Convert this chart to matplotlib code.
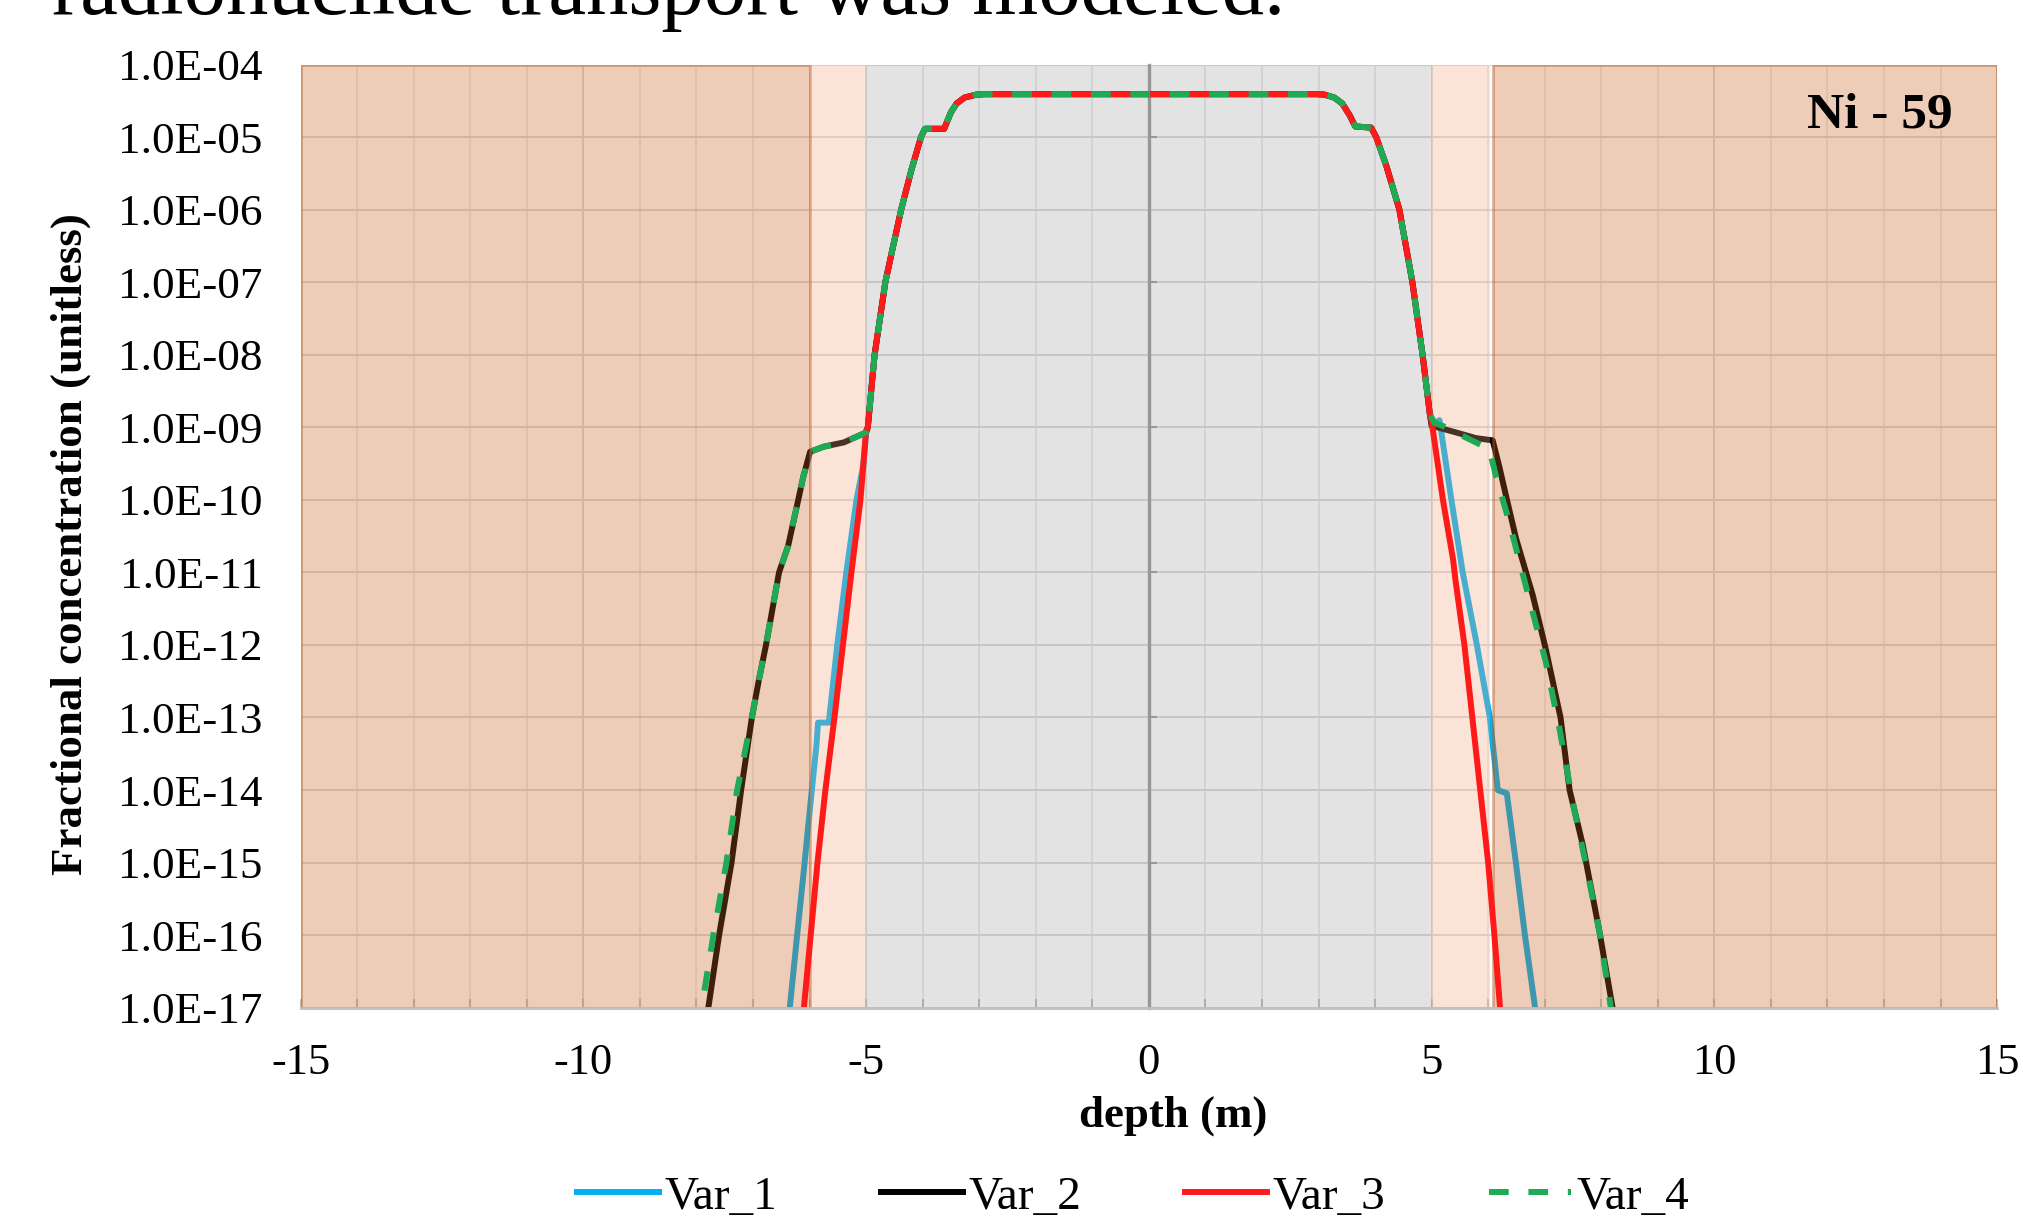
import numpy as np
import matplotlib
matplotlib.use("Agg")
import matplotlib.pyplot as plt
from matplotlib.ticker import FixedLocator, MultipleLocator, FuncFormatter, NullLocator, NullFormatter, LogLocator

plt.rcParams['font.family'] = ['Liberation Serif', 'DejaVu Serif']
plt.rcParams['axes.unicode_minus'] = False

# shared central profile (all four variants coincide here)
core_depth = [-4.97, -4.85, -4.66, -4.52, -4.38, -4.2, -4.03, -3.96, -3.62, -3.5, -3.4, -3.26, -3.05, -2.9,
              2.95, 3.1, 3.28, 3.42, 3.55, 3.65, 3.93, 4.02, 4.2, 4.43, 4.66, 4.84, 4.97]
core_conc = [1.0e-9, 1.0e-8, 1.0e-7, 3.2e-7, 1.0e-6, 3.5e-6, 1.0e-5, 1.3e-5, 1.3e-5, 2.2e-5, 2.9e-5, 3.5e-5, 3.85e-5, 3.9e-5,
             3.9e-5, 3.85e-5, 3.5e-5, 2.9e-5, 2.0e-5, 1.4e-5, 1.35e-5, 1.0e-5, 4.0e-6, 1.0e-6, 1.0e-7, 1.0e-8, 1.5e-9]

# wings, left side (outer -> inner) and right side (inner -> outer)
v1_left_d = [-6.4, -6.35, -6.22, -6.1, -5.98, -5.88, -5.85, -5.66, -5.51, -5.35, -5.17, -5.05, -5.0]
v1_left_c = [5e-18, 1e-17, 1e-16, 8e-16, 7e-15, 4e-14, 8.5e-14, 8.5e-14, 1e-12, 1e-11, 1e-10, 3e-10, 8.5e-10]
v1_right_d = [5.02, 5.14, 5.35, 5.55, 5.8, 6.03, 6.17, 6.33, 6.49, 6.65, 6.83, 6.87]
v1_right_c = [1.1e-9, 1.25e-9, 1e-10, 1e-11, 1e-12, 1e-13, 1e-14, 9e-15, 1e-15, 1e-16, 1e-17, 5e-18]

v2_left_d = [-7.85, -7.79, -7.6, -7.38, -7.21, -7.02, -6.89, -6.77, -6.54, -6.38, -6.2, -6.11, -5.99, -5.75, -5.39, -5.0]
v2_left_c = [5e-18, 1e-17, 1e-16, 1e-15, 1e-14, 1e-13, 3.5e-13, 1e-12, 1e-11, 2.3e-11, 1e-10, 2.1e-10, 4.6e-10, 5.4e-10, 6.2e-10, 8.5e-10]
v2_right_d = [5.0, 5.43, 5.78, 6.08, 6.2, 6.32, 6.49, 6.79, 7.02, 7.28, 7.44, 7.67, 7.97, 8.2, 8.25]
v2_right_c = [1.05e-9, 8.5e-10, 7.1e-10, 6.6e-10, 2.8e-10, 1.1e-10, 3e-11, 4.8e-12, 8.7e-13, 1e-13, 1e-14, 1.8e-15, 1.1e-16, 1e-17, 5e-18]

v3_left_d = [-6.14, -6.1, -5.98, -5.86, -5.72, -5.56, -5.41, -5.26, -5.1, -5.0]
v3_left_c = [5e-18, 1e-17, 1e-16, 1e-15, 1e-14, 1e-13, 1e-12, 1e-11, 1e-10, 9e-10]
v3_right_d = [5.0, 5.2, 5.38, 5.42, 5.58, 5.72, 5.86, 6.0, 6.11, 6.21, 6.24]
v3_right_c = [1.2e-9, 1e-10, 1.5e-11, 8e-12, 1e-12, 1e-13, 1e-14, 1e-15, 1e-16, 1e-17, 5e-18]

v4_left_d = [-7.97, -7.91, -7.7, -7.47, -7.28, -7.02, -6.89, -6.77, -6.54, -6.38, -6.2, -6.11, -5.99, -5.75, -5.39, -5.0]
v4_left_c = [5e-18, 1e-17, 1e-16, 1e-15, 1e-14, 1e-13, 3.5e-13, 1e-12, 1e-11, 2.3e-11, 1e-10, 2.1e-10, 4.6e-10, 5.4e-10, 6.2e-10, 8.5e-10]
v4_right_d = [5.05, 5.19, 5.49, 5.78, 6.02, 6.14, 6.37, 6.73, 7.02, 7.26, 7.5, 7.73, 7.97, 8.17, 8.22]
v4_right_c = [1.15e-9, 1.05e-9, 8e-10, 6.2e-10, 5e-10, 2.1e-10, 5e-11, 4.2e-12, 5.8e-13, 7.1e-14, 6.6e-15, 9.3e-16, 1.1e-16, 1e-17, 5e-18]

# depth zones: (start, end, face rgba, edge rgba)
zones = [(-15, -6, (0.78, 0.39, 0.14, 0.32), (0.70, 0.36, 0.14, 0.45)),
         (-6, -5, (0.96, 0.66, 0.49, 0.30), (0.96, 0.66, 0.49, 0.0)),
         (-5, 5, (0.45, 0.45, 0.45, 0.20), (0.45, 0.45, 0.45, 0.0)),
         (5, 6.03, (0.96, 0.66, 0.49, 0.30), (0.96, 0.66, 0.49, 0.0)),
         (6.08, 15, (0.78, 0.39, 0.14, 0.32), (0.70, 0.36, 0.14, 0.45))]


def series(ld, lc, rd, rc):
    return np.array(ld + core_depth + rd), np.array(lc + core_conc + rc)


fig = plt.figure(figsize=(20.23, 12.24), dpi=100)
ax = fig.add_axes([0.1486, 0.1767, 0.8386, 0.7706])
ax.set_yscale('log')
ax.set_xlim(-15, 15)
ax.set_ylim(1e-17, 1e-4)

ax.set_axisbelow(True)
ax.yaxis.set_major_locator(FixedLocator(10.0 ** np.arange(-17, -3)))
ax.yaxis.set_minor_locator(NullLocator())
ax.yaxis.set_major_formatter(FuncFormatter(lambda v, p: f"{v:.1E}"))
ax.xaxis.set_major_locator(MultipleLocator(5))
ax.xaxis.set_minor_locator(MultipleLocator(1))
ax.grid(True, axis='y', which='major', color='#DBDBDB', lw=1.4)
ax.grid(True, axis='x', which='minor', color='#ECECEC', lw=1.4)
ax.grid(True, axis='x', which='major', color='#DBDBDB', lw=1.4)

# y axis line through depth 0, with log minor ticks
sec = ax.secondary_yaxis(0.5)
sec.set_zorder(0.8)
sec.yaxis.set_major_locator(LogLocator(base=10))
sec.yaxis.set_minor_locator(LogLocator(base=10, subs=np.arange(2, 10)))
sec.yaxis.set_major_formatter(NullFormatter())
sec.yaxis.set_minor_formatter(NullFormatter())
sec.tick_params(which='both', colors='#A0A0A0', length=6, width=1.5)
for s in sec.spines.values():
    s.set_color('#A0A0A0')
    s.set_linewidth(2.4)

lw = 4.3
d, c = series(v1_left_d, v1_left_c, v1_right_d, v1_right_c)
ax.plot(d, c, color='#00B0F0', lw=lw, zorder=0.9, label='Var_1')
d, c = series(v2_left_d, v2_left_c, v2_right_d, v2_right_c)
ax.plot(d, c, color='black', lw=lw, zorder=0.95, label='Var_2')

for x0, x1, fc, ec in zones:
    ax.axvspan(x0, x1, facecolor=fc, edgecolor=ec, lw=2, zorder=1)

d, c = series(v3_left_d, v3_left_c, v3_right_d, v3_right_c)
ax.plot(d, c, color='#FF1A1A', lw=lw, zorder=2, label='Var_3')
d, c = series(v4_left_d, v4_left_c, v4_right_d, v4_right_c)
ax.plot(d, c, color='#1FAA55', lw=lw, dashes=(3.3, 3.3), zorder=2.1, label='Var_4')

for side in ['top', 'right', 'left']:
    ax.spines[side].set_visible(False)
ax.spines['bottom'].set_color('#BFBFBF')
ax.spines['bottom'].set_linewidth(2)
ax.spines['bottom'].set_zorder(2.5)

ax.tick_params(axis='y', which='both', length=0, pad=27.5, labelsize=32.5)
ax.tick_params(axis='x', which='both', direction='in', length=6.5, width=1.5,
               colors='#BFBFBF', labelcolor='black', pad=25.5, labelsize=32)

fig.text(52 / 2023, 1 - 14 / 1224, "radionuclide transport was modeled.", fontsize=61,
         ha='left', va='baseline')
fig.text(71 / 2023, 0.5556, "Fractional concentration (unitless)", rotation=90,
         fontsize=32.3, fontweight='bold', ha='center', va='center')
fig.text(0.580, 0.0882, "depth (m)", fontsize=32.3, fontweight='bold', ha='center', va='center')
fig.text(0.965, 0.906, "Ni - 59", fontsize=37, fontweight='bold', ha='right', va='center')

fig.legend(loc='center', bbox_to_anchor=(1133 / 2023, 1 - 1197 / 1224), ncol=4, frameon=False,
           fontsize=34, handlelength=1.73, handletextpad=0.12, columnspacing=2.2)

fig.savefig("out.png", dpi=100)
